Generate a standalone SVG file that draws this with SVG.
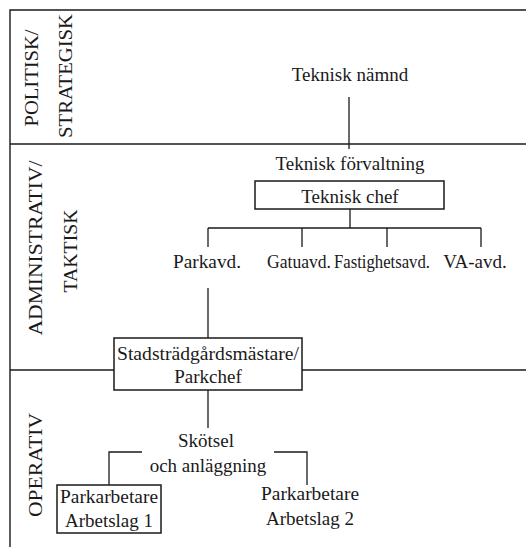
<svg xmlns="http://www.w3.org/2000/svg" width="526" height="547" viewBox="0 0 526 547">
  <style>
    text { font-family: "Liberation Serif", "DejaVu Serif", serif; font-size: 19px; fill: #1a1a1a; text-anchor: middle; }
    .frame { stroke: #1a1a1a; stroke-width: 1.4; fill: none; }
    .box { stroke: #1a1a1a; stroke-width: 1.5; fill: #ffffff; }
    .link { stroke: #1a1a1a; stroke-width: 1.3; fill: none; }
  </style>
  <rect width="526" height="547" fill="#ffffff"/>

  <!-- level frame and dividers -->
  <g id="levels">
    <path class="frame" d="M10 547 V10 H526"/>
    <path class="frame" d="M10 144 H526"/>
    <path class="frame" d="M10 370 H526"/>
    <text transform="translate(38,78) rotate(-90)" textLength="97" lengthAdjust="spacingAndGlyphs">POLITISK/</text>
    <text transform="translate(72,76) rotate(-90)" textLength="124" lengthAdjust="spacingAndGlyphs">STRATEGISK</text>
    <text transform="translate(42,248) rotate(-90)" textLength="175" lengthAdjust="spacingAndGlyphs">ADMINISTRATIV/</text>
    <text transform="translate(77,251) rotate(-90)" textLength="83" lengthAdjust="spacingAndGlyphs">TAKTISK</text>
    <text transform="translate(42,465) rotate(-90)" textLength="104" lengthAdjust="spacingAndGlyphs">OPERATIV</text>
  </g>

  <!-- connectors -->
  <g id="connectors">
    <path class="link" d="M349 97 V149"/>
    <path class="link" d="M350 209 V228"/>
    <path class="link" d="M208 228 H481"/>
    <path class="link" d="M208 228 V247 M302 228 V247 M387 228 V247 M481 228 V247"/>
    <path class="link" d="M208 288 V338"/>
    <path class="link" d="M208 390 V428"/>
    <path class="link" d="M142 452 H109 V485"/>
    <path class="link" d="M274 452 H307 V485"/>
  </g>

  <g id="teknisk-namnd">
    <text x="350" y="81">Teknisk nämnd</text>
  </g>
  <g id="teknisk-forvaltning">
    <text x="350" y="170">Teknisk förvaltning</text>
  </g>
  <g id="teknisk-chef">
    <rect class="box" x="255" y="181" width="189" height="28"/>
    <text x="350" y="203">Teknisk chef</text>
  </g>
  <g id="parkavd">
    <text x="207" y="268" textLength="68" lengthAdjust="spacingAndGlyphs">Parkavd.</text>
  </g>
  <g id="gatuavd">
    <text x="299" y="268" font-size="18" textLength="64" lengthAdjust="spacingAndGlyphs">Gatuavd.</text>
  </g>
  <g id="fastighetsavd">
    <text x="382" y="268" font-size="18" textLength="96" lengthAdjust="spacingAndGlyphs">Fastighetsavd.</text>
  </g>
  <g id="va-avd">
    <text x="475" y="268">VA-avd.</text>
  </g>
  <g id="parkchef">
    <rect class="box" x="114" y="338" width="188" height="52"/>
    <text x="208" y="360" textLength="182" lengthAdjust="spacingAndGlyphs">Stadsträdgårdsmästare/</text>
    <text x="208" y="383">Parkchef</text>
  </g>
  <g id="skotsel">
    <text x="206" y="447">Skötsel</text>
    <text x="208" y="472">och anläggning</text>
  </g>
  <g id="arbetslag-1">
    <rect class="box" x="57" y="485" width="104" height="48"/>
    <text x="109" y="503" textLength="98" lengthAdjust="spacingAndGlyphs">Parkarbetare</text>
    <text x="109" y="527">Arbetslag 1</text>
  </g>
  <g id="arbetslag-2">
    <text x="310" y="500" textLength="98" lengthAdjust="spacingAndGlyphs">Parkarbetare</text>
    <text x="310" y="525">Arbetslag 2</text>
  </g>
</svg>
